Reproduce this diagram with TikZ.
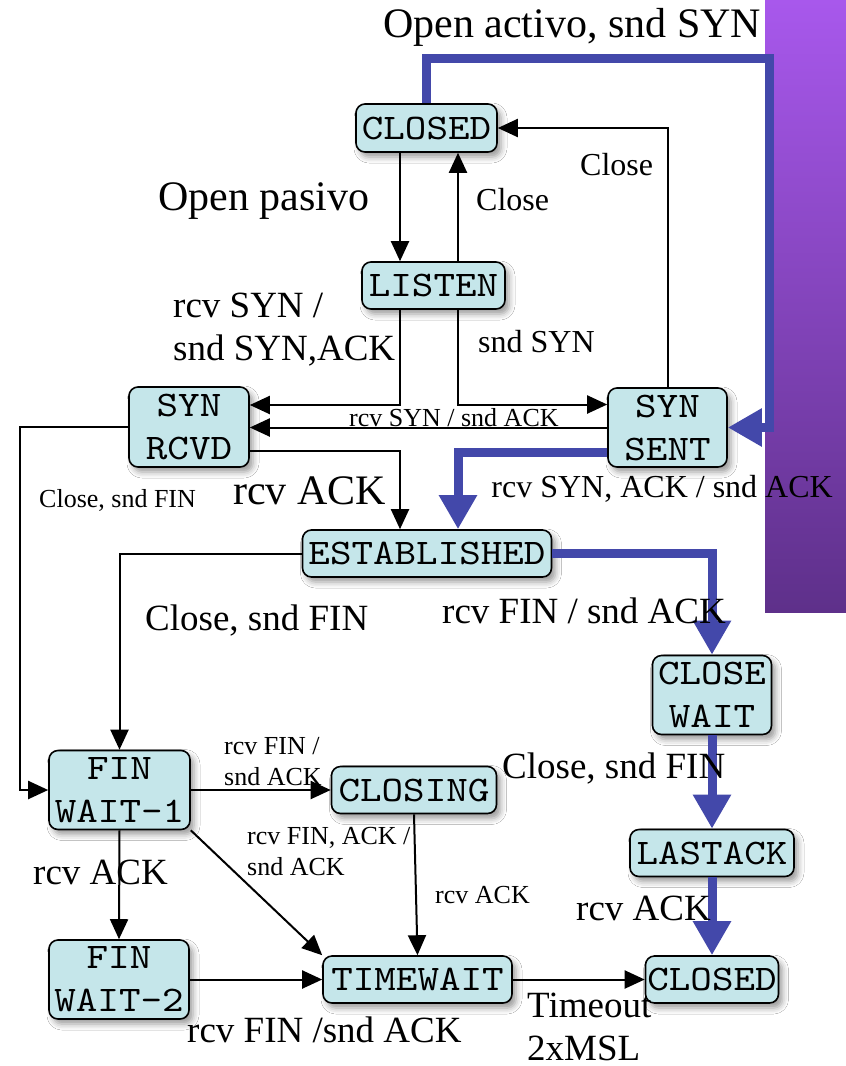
\documentclass[tikz,border=0pt]{standalone}
\usepackage{fontspec}
\setmainfont{Liberation Serif}
\newfontfamily\statemono[FakeStretch=1.14]{lmmono10-regular.otf}
\usetikzlibrary{arrows.meta,shadows.blur}

\definecolor{statefill}{RGB}{197,230,234}
\definecolor{pathblue}{RGB}{67,72,170}
\definecolor{purpletop}{RGB}{168,88,236}
\definecolor{purplebot}{RGB}{94,48,138}

\begin{document}
\begin{tikzpicture}[x=1pt,y=-1pt,
  state/.style={draw=black, line width=1.6pt, fill=statefill, rounded corners=9pt,
    inner sep=0pt, align=center, font=\statemono\fontsize{36}{43}\selectfont,
    blur shadow={shadow xshift=4pt, shadow yshift=-5pt, shadow blur radius=6pt, shadow opacity=40}},
  conn/.style={line width=2pt, -{Triangle[length=20pt,width=18pt]}},
  hot/.style={draw=pathblue, line width=9pt, -{Triangle[length=34pt,width=36pt]}},
  lblbig/.style={font=\fontsize{42}{48}\selectfont, inner sep=0pt, anchor=base west, align=left},
  lblmid/.style={font=\fontsize{37}{43}\selectfont, inner sep=0pt, anchor=base west, align=left},
  lblsma/.style={font=\fontsize{32}{38}\selectfont, inner sep=0pt, anchor=base west, align=left},
  lbltiny/.style={font=\fontsize{26}{31}\selectfont, inner sep=0pt, anchor=base west, align=left},
]
% canvas
\useasboundingbox (0,0) rectangle (846,1066);
\fill[white] (0,0) rectangle (846,1066);
\shade[top color=purpletop, bottom color=purplebot] (765,0) rectangle (846,612);

% states
\node[state, minimum width=141pt, minimum height=48pt] (closedA) at (426.5,128) {CLOSED};
\node[state, minimum width=143pt, minimum height=47pt] (listen) at (433.5,285.5) {LISTEN};
\node[state, minimum width=120pt, minimum height=80pt] (synrcvd) at (189,427) {SYN\\RCVD};
\node[state, minimum width=119pt, minimum height=79pt] (synsent) at (667.5,427.5) {SYN\\SENT};
\node[state, minimum width=249pt, minimum height=47pt] (estab) at (427,553.5) {ESTABLISHED};
\node[state, minimum width=119pt, minimum height=79pt] (closewait) at (712,695) {CLOSE\\WAIT};
\node[state, minimum width=141pt, minimum height=79pt] (finw1) at (119.5,790) {FIN\\WAIT-1};
\node[state, minimum width=165pt, minimum height=47pt] (closing) at (414,790) {CLOSING};
\node[state, minimum width=164pt, minimum height=47pt] (lastack) at (712,853) {LASTACK};
\node[state, minimum width=140pt, minimum height=79pt] (finw2) at (119,979.5) {FIN\\WAIT-2};
\node[state, minimum width=189pt, minimum height=47pt] (timewait) at (417.5,979.5) {TIMEWAIT};
\node[state, minimum width=133pt, minimum height=47pt] (closedB) at (712,979.5) {CLOSED};

% column and corner helpers
\coordinate (xa) at (400,0);
\coordinate (xb) at (458,0);
\coordinate (xl) at (20,0);
\coordinate (bturn) at (769,58);

% ordinary transitions
\draw[conn] (closedA.south -| xa) -- (listen.north -| xa);
\draw[conn] (listen.north -| xb) -- (closedA.south -| xb);
\draw[conn] (synsent.north) |- (closedA.east);
\draw[conn] (listen.south -| xa) |- ([yshift=22pt]synrcvd.east);
\draw[conn] (listen.south -| xb) |- ([yshift=23pt]synsent.west);
\draw[conn] (synsent.west) -- (synsent.west -| synrcvd.east);
\draw[conn] ([yshift=-24pt]synrcvd.east) -| (estab.north -| xa);
\draw[conn] (synrcvd.west) -| (xl |- finw1.west) -- (finw1.west);
\draw[conn] (estab.west) -| (finw1.north);
\draw[conn] (finw1.east) -- (closing.west);
\draw[conn] (finw1.south east) -- (timewait.north west);
\draw[conn] (closing.south) -- (timewait.north);
\draw[conn] (finw1.south) -- (finw2.north);
\draw[conn] (finw2.east) -- (timewait.west);
\draw[conn] (timewait.east) -- (closedB.west);

% highlighted client path
\draw[hot] (closedA.north) |- (bturn) |- (synsent.east);
\draw[hot] ([yshift=-25pt]synsent.west) -| (estab.north -| xb);
\draw[hot] (estab.east) -| (closewait.north);
\draw[hot] (closewait.south) -- (lastack.north);
\draw[hot] (lastack.south) -- (closedB.north);

% transition labels (multi-line ones are placed by the baseline of their last line)
\node[lblbig] (tOpenAct) at (383,37) {Open activo, snd SYN};
\node[lblbig] (tOpenPas) at (158,210) {Open pasivo};
\node[lblsma] (tClose1) at (476,210) {Close};
\node[lblsma] (tClose2) at (580,175) {Close};
\node[lblmid] (tRcvSyn) at (173,360) {rcv SYN /\\snd SYN,ACK};
\node[lblsma] (tSndSyn) at (478,352) {snd SYN};
\node[lbltiny] (tSynAck) at (349,426) {rcv SYN / snd ACK};
\node[lbltiny] (tCloseFin1) at (39,507) {Close, snd FIN};
\node[lblbig] (tRcvAck1) at (233,504) {rcv ACK};
\node[lblsma, anchor=base east] (tSynAckAck) at (833,497) {rcv SYN, ACK / snd ACK};
\node[lblmid] (tCloseFin2) at (145,630) {Close, snd FIN};
\node[lblmid] (tFinAck1) at (442,623) {rcv FIN / snd ACK};
\node[lbltiny] (tFinAck2) at (224,785) {rcv FIN /\\snd ACK};
\node[lblmid] (tCloseFin3) at (502,778) {Close, snd FIN};
\node[lbltiny] (tFinAckAck) at (247,875) {rcv FIN, ACK /\\snd ACK};
\node[lblmid] (tRcvAck2) at (33,884) {rcv ACK};
\node[lbltiny] (tRcvAck3) at (435,903) {rcv ACK};
\node[lblmid] (tRcvAck4) at (576,920) {rcv ACK};
\node[lblmid] (tTimeout) at (527,1060) {Timeout\\2xMSL};
\node[lblmid] (tFinAck3) at (187,1042) {rcv FIN /snd ACK};
\end{tikzpicture}
\end{document}
